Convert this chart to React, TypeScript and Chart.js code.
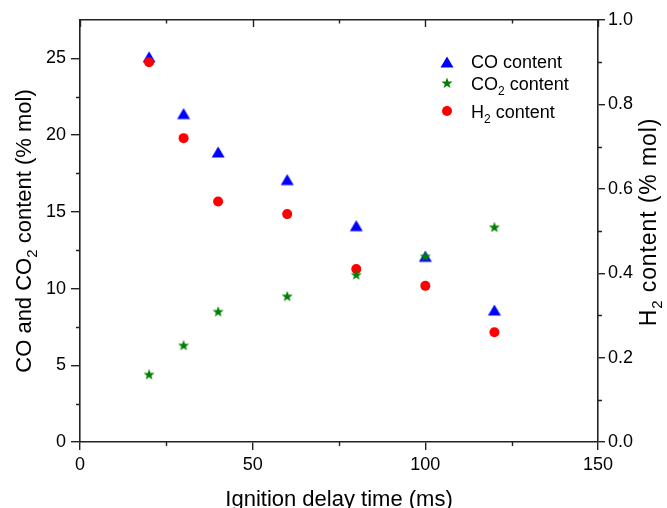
import { useEffect, useRef } from "react";
import { Chart, registerables } from "chart.js";

Chart.register(...registerables);

// ---- data ----
const ignitionDelay = [20, 30, 40, 60, 80, 100, 120];
const coContent = [25.1, 21.4, 18.9, 17.1, 14.1, 12.1, 8.6];
const co2Content = [4.4, 6.3, 8.5, 9.5, 10.9, 12.1, 14.0];
const h2Content = [0.9, 0.72, 0.57, 0.54, 0.41, 0.37, 0.26];

const seriesNames = ["CO content", "CO2 content", "H2 content"];

type Part = { t: string; sub?: boolean };
const xTitle: Part[] = [{ t: "Ignition delay time (ms)" }];
const yLeftTitle: Part[] = [{ t: "CO and CO" }, { t: "2", sub: true }, { t: " content (% mol)" }];
const yRightTitle: Part[] = [{ t: "H" }, { t: "2", sub: true }, { t: " content (% mol)" }];
const legendParts: Part[][] = [
  [{ t: "CO content" }],
  [{ t: "CO" }, { t: "2", sub: true }, { t: " content" }],
  [{ t: "H" }, { t: "2", sub: true }, { t: " content" }],
];

const FONT = '"Liberation Sans", Arial, sans-serif';
const AXIS = "#222";

function drawRich(
  ctx: CanvasRenderingContext2D,
  parts: Part[],
  size: number,
  align: "left" | "center",
  spacing = 0
) {
  const subSize = Math.round(size * 0.66);
  (ctx as any).letterSpacing = `${spacing}px`;
  let total = 0;
  const widths = parts.map((p) => {
    ctx.font = `${p.sub ? subSize : size}px ${FONT}`;
    const w = ctx.measureText(p.t).width;
    total += w;
    return w;
  });
  let x = align === "center" ? -total / 2 : 0;
  ctx.textBaseline = "alphabetic";
  ctx.textAlign = "left";
  parts.forEach((p, i) => {
    ctx.font = `${p.sub ? subSize : size}px ${FONT}`;
    ctx.fillText(p.t, x, p.sub ? size * 0.26 : 0);
    x += widths[i];
  });
  (ctx as any).letterSpacing = "0px";
}

function makeTriangle(color: string) {
  const c = document.createElement("canvas");
  c.width = 16;
  c.height = 14;
  const g = c.getContext("2d")!;
  g.fillStyle = color;
  g.beginPath();
  g.moveTo(8, 1.4);
  g.lineTo(14.5, 12.6);
  g.lineTo(1.5, 12.6);
  g.closePath();
  g.fill();
  return c;
}

function makeStar(color: string) {
  const c = document.createElement("canvas");
  c.width = 14;
  c.height = 14;
  const g = c.getContext("2d")!;
  g.fillStyle = color;
  g.beginPath();
  const R = 5.8;
  const r = 2.4;
  for (let i = 0; i < 10; i++) {
    const a = -Math.PI / 2 + (i * Math.PI) / 5;
    const rad = i % 2 === 0 ? R : r;
    const px = 7 + rad * Math.cos(a);
    const py = 7.4 + rad * Math.sin(a);
    if (i === 0) g.moveTo(px, py);
    else g.lineTo(px, py);
  }
  g.closePath();
  g.fill();
  return c;
}

export default function App() {
  const ref = useRef<HTMLCanvasElement | null>(null);

  useEffect(() => {
    document.body.style.margin = "0";
    const canvas = ref.current!;
    const tri = makeTriangle("#0000ff");
    const star = makeStar("#008000");

    const extras = {
      id: "extras",
      afterDraw(chart: any) {
        const ctx: CanvasRenderingContext2D = chart.ctx;
        const { left, right, top, bottom } = chart.chartArea;
        const sx = chart.scales.x;
        const sy = chart.scales.y;
        const sy1 = chart.scales.y1;
        const mids = (scale: any) => {
          const out: number[] = [];
          for (let i = 0; i < scale.ticks.length - 1; i++) {
            out.push((scale.ticks[i].value + scale.ticks[i + 1].value) / 2);
          }
          return out;
        };
        ctx.save();
        ctx.strokeStyle = AXIS;
        ctx.lineWidth = 1.4;
        ctx.beginPath();
        mids(sx).forEach((v) => {
          const px = Math.round(sx.getPixelForValue(v)) + 0.5;
          ctx.moveTo(px, bottom);
          ctx.lineTo(px, bottom + 4);
          ctx.moveTo(px, top);
          ctx.lineTo(px, top + 3.5);
        });
        sx.ticks.forEach((t: any) => {
          const px = Math.round(sx.getPixelForValue(t.value)) + 0.5;
          ctx.moveTo(px, top);
          ctx.lineTo(px, top + 7);
        });
        mids(sy).forEach((v) => {
          const py = Math.round(sy.getPixelForValue(v)) + 0.5;
          ctx.moveTo(left, py);
          ctx.lineTo(left - 4, py);
        });
        mids(sy1).forEach((v) => {
          const py = Math.round(sy1.getPixelForValue(v)) + 0.5;
          ctx.moveTo(right, py);
          ctx.lineTo(right + 4, py);
        });
        ctx.stroke();

        ctx.fillStyle = "#000";
        ctx.save();
        ctx.translate((left + right) / 2, 505.5);
        drawRich(ctx, xTitle, 22, "center");
        ctx.restore();

        ctx.save();
        ctx.translate(31, (top + bottom) / 2);
        ctx.rotate(-Math.PI / 2);
        drawRich(ctx, yLeftTitle, 22, "center");
        ctx.restore();

        ctx.save();
        ctx.translate(656, 222);
        ctx.rotate(-Math.PI / 2);
        drawRich(ctx, yRightTitle, 23, "center", 0.9);
        ctx.restore();

        const mx = 447;
        const rowMarker = [62, 83, 111];
        const rowBase = [68.3, 90, 118.3];
        ctx.drawImage(tri, mx - tri.width / 2, rowMarker[0] - tri.height / 2);
        ctx.drawImage(star, mx - star.width / 2, rowMarker[1] - star.height / 2);
        ctx.fillStyle = "#ff0000";
        ctx.beginPath();
        ctx.arc(mx, rowMarker[2], 5, 0, Math.PI * 2);
        ctx.fill();
        ctx.fillStyle = "#000";
        legendParts.forEach((parts, i) => {
          ctx.save();
          ctx.translate(471, rowBase[i]);
          drawRich(ctx, parts, 18, "left");
          ctx.restore();
        });
        ctx.restore();
      },
    };

    const tickFont = { size: 18, family: FONT };
    const border = { display: true, color: AXIS, width: 1.6 };
    const chart = new Chart(canvas, {
      type: "scatter",
      data: {
        datasets: [
          {
            label: seriesNames[0],
            data: ignitionDelay.map((x, i) => ({ x, y: coContent[i] })),
            pointStyle: tri as any,
            pointRadius: 7,
            backgroundColor: "#0000ff",
            borderColor: "#0000ff",
            yAxisID: "y",
            order: 2,
          },
          {
            label: seriesNames[1],
            data: ignitionDelay.map((x, i) => ({ x, y: co2Content[i] })),
            pointStyle: star as any,
            pointRadius: 6,
            backgroundColor: "#008000",
            borderColor: "#008000",
            yAxisID: "y",
            order: 0,
          },
          {
            label: seriesNames[2],
            data: ignitionDelay.map((x, i) => ({ x, y: h2Content[i] })),
            pointStyle: "circle",
            pointRadius: 5,
            borderWidth: 0,
            backgroundColor: "#ff0000",
            borderColor: "#ff0000",
            yAxisID: "y1",
            order: 1,
          },
        ],
      },
      options: {
        animation: false,
        responsive: false,
        layout: { padding: 0 },
        plugins: { legend: { display: false }, tooltip: { enabled: false } },
        scales: {
          x: {
            type: "linear",
            position: "bottom",
            min: 0,
            max: 150,
            ticks: { stepSize: 50, color: "#000", font: tickFont, padding: 4, maxRotation: 0, includeBounds: false },
            grid: { drawOnChartArea: false, drawTicks: true, tickLength: 8, color: AXIS, lineWidth: 1.4 },
            border,
            afterFit: (s: any) => {
              s.height = 66;
            },
          },
          x2: {
            type: "linear",
            position: "top",
            min: 0,
            max: 150,
            ticks: { display: false },
            grid: { display: false },
            border,
            afterFit: (s: any) => {
              s.height = 20;
            },
          },
          y: {
            type: "linear",
            position: "left",
            min: 0,
            max: 27.5,
            ticks: { stepSize: 5, color: "#000", font: tickFont, padding: 5, includeBounds: false },
            grid: { drawOnChartArea: false, drawTicks: true, tickLength: 9, color: AXIS, lineWidth: 1.4 },
            border,
            afterFit: (s: any) => {
              s.width = 80;
            },
          },
          y1: {
            type: "linear",
            position: "right",
            min: 0,
            max: 1,
            ticks: {
              stepSize: 0.2,
              color: "#000",
              font: tickFont,
              padding: 3,
              includeBounds: false,
              callback: (v: any) => Number(v).toFixed(1),
            },
            grid: { drawOnChartArea: false, drawTicks: true, tickLength: 7, color: AXIS, lineWidth: 1.4 },
            border,
            afterFit: (s: any) => {
              s.width = 69;
            },
          },
        },
      },
      plugins: [extras],
    });
    return () => chart.destroy();
  }, []);

  return <canvas ref={ref} width={667} height={508} style={{ display: "block" }} />;
}
